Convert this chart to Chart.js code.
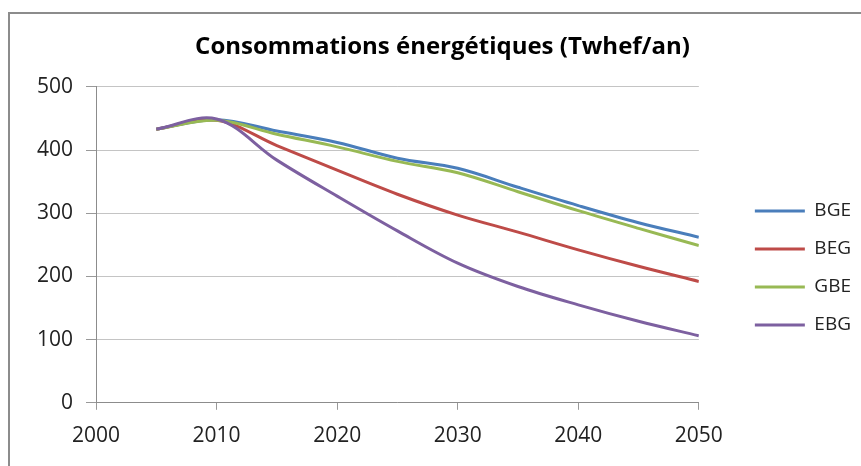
<!DOCTYPE html>
<html>
<head>
<meta charset="utf-8">
<script src="https://cdn.jsdelivr.net/npm/chart.js@4"></script>
<style>
  html, body { margin:0; padding:0; background:#fff; overflow:hidden; }
  #frame { position:absolute; left:8px; top:12px; width:900px; height:500px;
           border-left:2px solid #8c8c8c; border-top:2px solid #8c8c8c; }
  #chart { position:absolute; left:0; top:0; }
</style>
</head>
<body>
<div id="frame"></div>
<canvas id="chart" width="861" height="466"></canvas>
<script>
// Données
const years = [2005, 2010, 2015, 2020, 2025, 2030, 2035, 2040, 2045, 2050];
const BGE = [433, 448, 430, 412, 387, 371, 341, 312, 285, 262];
const BEG = [433, 447, 407, 368, 330, 297, 270, 242, 216, 192];
const GBE = [433, 447, 425, 405, 382, 364, 334, 304, 276, 249];
const EBG = [433, 449, 384, 327, 272, 221, 184, 155, 129, 106];
const yTicks = [0, 100, 200, 300, 400, 500];
const xTicks = [2000, 2010, 2020, 2030, 2040, 2050];

const FONT = 'Open Sans';
const pts = (arr)=> arr.map((v,i)=>({x: years[i], y: v}));

// series: nom, valeurs, couleur
const series = [
  ['BGE', BGE, '#4a7ebb'],
  ['BEG', BEG, '#be4b48'],
  ['GBE', GBE, '#98b954'],
  ['EBG', EBG, '#7d60a0'],
];

const datasets = series.map(([name, vals, col], i)=>({
  label: name,
  data: pts(vals),
  borderColor: col,
  backgroundColor: col,
  borderWidth: 3,
  pointRadius: 0,
  tension: 0.35,
  order: series.length - i   // la dernière série dessinée au-dessus (comme Excel)
}));

new Chart(document.getElementById('chart'), {
  type: 'line',
  data: { datasets },
  options: {
    responsive: false,
    animation: false,
    layout: { padding: { left: 24, right: 0, top: 0, bottom: 3 } },
    plugins: {
      title: {
        display: true,
        text: 'Consommations énergétiques (Twhef/an)',
        color: '#000',
        font: { family: FONT, size: 24, weight: 'bold' },
        padding: { top: 33, bottom: 25 }
      },
      legend: {
        position: 'right',
        fullSize: false,
        // titre vide : sert juste à descendre les entrées
        title: { display: true, text: '', font: { size: 12 }, padding: { top: 0, bottom: 32 } },
        labels: {
          color: '#222',
          font: { family: FONT, size: 19 },
          usePointStyle: true,
          pointStyle: 'line',
          pointStyleWidth: 50,
          padding: 19,
          sort: (a,b)=> a.datasetIndex - b.datasetIndex
        }
      },
      tooltip: { enabled: false }
    },
    scales: {
      x: {
        type: 'linear',
        min: xTicks[0], max: xTicks[xTicks.length-1],
        afterBuildTicks: (s)=>{ s.ticks = xTicks.map(v=>({value: v})); },
        ticks: { color: '#222', font: { family: FONT, size: 21 }, padding: 14,
                 maxRotation: 0, callback: (v)=> String(v) },
        grid: { drawOnChartArea: false, drawTicks: true, tickLength: 7, tickColor: '#999' },
        border: { color: '#8c8c8c', width: 1 }
      },
      y: {
        min: yTicks[0], max: yTicks[yTicks.length-1],
        afterBuildTicks: (s)=>{ s.ticks = yTicks.map(v=>({value: v})); },
        afterFit: (s)=>{ s.width = 72; },
        ticks: { color: '#222', font: { family: FONT, size: 21 }, padding: 13 },
        grid: { color: '#c4c4c4', tickLength: 10, tickColor: '#999' },
        border: { color: '#8c8c8c', width: 1 }
      },
      // axe vide à droite : espace entre la zone de tracé et la légende
      yR: {
        position: 'right',
        display: true,
        afterFit: (s)=>{ s.width = 37; },
        ticks: { display: false },
        grid: { display: false },
        border: { display: false }
      }
    }
  }
});
</script>
</body>
</html>
